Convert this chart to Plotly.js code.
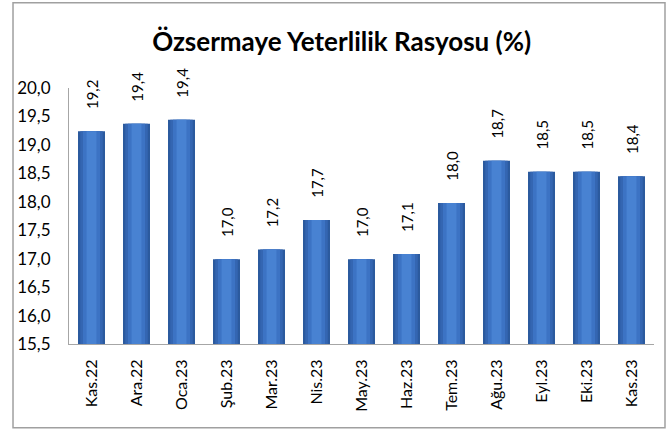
<!DOCTYPE html>
<html>
<head>
<meta charset="utf-8">
<script src="https://cdn.plot.ly/plotly-3.0.1.min.js"></script>
<style>html,body{margin:0;padding:0;background:#fff;}#chart{width:666px;height:432px;}</style>
</head>
<body>
<div id="chart"></div>
<script>
const categories = ["Kas.22","Ara.22","Oca.23","Şub.23","Mar.23","Nis.23","May.23","Haz.23","Tem.23","Ağu.23","Eyl.23","Eki.23","Kas.23"];
const values = [19.24, 19.37, 19.44, 16.99, 17.16, 17.68, 16.99, 17.08, 17.98, 18.72, 18.53, 18.53, 18.45];
const labels = ["19,2","19,4","19,4","17,0","17,2","17,7","17,0","17,1","18,0","18,7","18,5","18,5","18,4"];
const yTicks = [15.5,16.0,16.5,17.0,17.5,18.0,18.5,19.0,19.5,20.0];

const FONT = "Lato, 'Open Sans', sans-serif";
const PAD = "\u00a0\u00a0\u00a0\u00a0\u00a0";

const layers = [
  {w:0.60, c:"#2B5A9E"},
  {w:0.50, c:"#3466B2"},
  {w:0.38, c:"#3C73C4"},
  {w:0.22, c:"#4882D2"}
];
const traces = layers.map((l, k) => {
  const t = {
    type:"bar", x:categories, y:values, width:l.w,
    marker:{color:l.c, line:{width:0}},
    hoverinfo:"skip", showlegend:false, cliponaxis:false
  };
  if (k === 0) {
    t.text = labels.map(s => PAD + s);
    t.textposition = "outside";
    t.textangle = -90;
    t.constraintext = "none";
    t.outsidetextfont = {family:FONT, size:15, color:"#000"};
  } else {
    t.textposition = "none";
  }
  return t;
});

const layout = {
  width:666, height:432,
  margin:{l:69, r:12, t:88, b:88},
  paper_bgcolor:"#fff", plot_bgcolor:"#fff",
  barmode:"overlay",
  separators:",.",
  title:{text:"<b>Özsermaye Yeterlilik Rasyosu (%)</b>", x:0.513, xref:"container", xanchor:"center",
         y:0.903, yref:"container", yanchor:"middle", font:{family:FONT, size:26, color:"#000"}},
  xaxis:{type:"category", tickangle:-90, showline:true, linecolor:"#A6A6A6", linewidth:1,
         ticks:"", showgrid:false, zeroline:false, ticklabelstandoff:8,
         tickfont:{family:FONT, size:16, color:"#000"}, fixedrange:true},
  yaxis:{range:[15.5,20.0], tickvals:yTicks, tickformat:".1f", showline:true, linecolor:"#A6A6A6",
         linewidth:1, ticks:"", showgrid:false, zeroline:false, ticklabelstandoff:14,
         tickfont:{family:FONT, size:17, color:"#000"}, fixedrange:true},
  shapes:[{type:"rect", xref:"paper", yref:"paper", x0:-0.0957, x1:1.0188, y0:-0.3275, y1:1.333,
           line:{color:"#A0A0A0", width:1.5}, fillcolor:"rgba(0,0,0,0)", layer:"above"}]
};

Plotly.newPlot("chart", traces, layout, {displayModeBar:false, staticPlot:true});
</script>
</body>
</html>
